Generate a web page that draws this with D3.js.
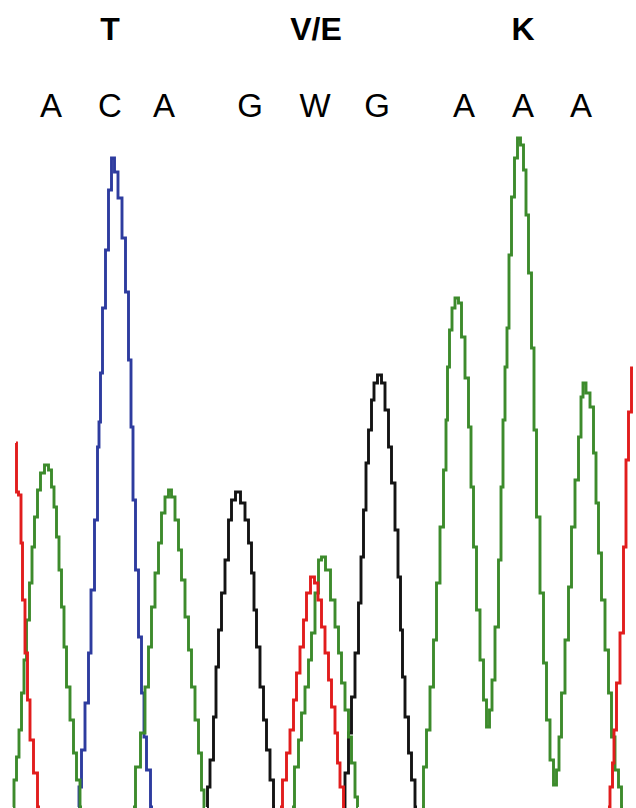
<!DOCTYPE html>
<meta charset="utf-8">
<style>
  body { margin: 0; background: #fff; }
  .trace { fill: none; stroke-width: 2.9; stroke-linejoin: miter; }
  .codon { font-family: "Liberation Sans", Arial, sans-serif; font-weight: bold; font-size: 32px; }
  .base { font-family: "Liberation Sans", Arial, sans-serif; font-size: 33px; }
</style>
<svg width="636" height="808"></svg>
<script src="https://cdnjs.cloudflare.com/ajax/libs/d3/7.8.5/d3.min.js"></script>
<script>

// amino acid labels and called bases, at their scan position
var codons = [["T", 110], ["V/E", 316], ["K", 523]];
var bases = [["A", 51], ["C", 110], ["A", 164], ["G", 250], ["W", 315], ["G", 377], ["A", 464], ["A", 523], ["A", 581]];

// traces: [scan, signal], null = gap between peaks
var traceA = [
  [13,0],[15,27],[18,50],[20,77],[23,114],[25,147],[28,187],[31,224],[33,260],[36,290],[39,317],[42,334],[47,342],
  [50,337],[53,320],[55,300],[58,270],[60,237],[63,200],[65,160],[68,120],[72,87],[75,54],[78,27],[82,0],
  null,
  [133,0],[138,40],[143,74],[147,120],[150,160],[153,200],[157,234],[160,264],[163,294],[167,310],[170,317],
  [173,310],[177,287],[180,257],[183,227],[187,190],[190,157],[193,120],[197,87],[200,54],[203,17],[205,0],
  null,
  [292,0],[297,40],[300,67],[303,94],[307,120],[310,147],[313,174],[317,214],[320,247],[323,250],
  [328,237],[333,207],[337,180],[340,154],[343,124],[347,97],[350,70],[353,44],[357,10],[358,0],
  null,
  [422,0],[425,40],[428,77],[432,120],[435,167],[438,224],[442,280],[445,337],[447,387],[448,440],[451,477],[453,499],[457,509],
  [460,504],[463,470],[467,429],[470,380],[472,320],[475,260],[478,197],[482,147],[485,107],[488,80],
  [491,97],[493,127],[497,180],[500,247],[502,320],[504,387],[506,440],[508,479],[510,552],[513,610],[516,649],[519,669],
  [522,662],[525,637],[527,592],[530,534],[533,459],[535,377],[538,290],[542,214],[545,144],[548,87],[552,47],[555,22],
  [558,37],[560,70],[563,114],[567,167],[570,220],[573,280],[577,327],[580,370],[582,410],[584,424],
  [588,414],[592,400],[595,354],[597,304],[600,254],[603,207],[607,157],[610,114],[613,70],[617,37],[620,20],[623,0]
];
var traceC = [
  [78,0],[80,20],[83,57],[87,104],[90,154],[92,217],[97,287],[98,360],[100,385],[101,434],[104,499],[107,557],[110,617],[113,649],
  [116,635],[120,609],[124,569],[127,515],[130,447],[132,380],[134,307],[137,237],[140,170],[143,114],[145,70],[148,37],[153,0]
];
var traceG = [
  [207,0],[208,20],[212,47],[215,90],[217,140],[220,177],[223,214],[227,247],[230,287],[233,307],[238,315],
  [243,304],[247,287],[250,264],[253,234],[255,197],[258,160],[262,120],[265,87],[268,57],[272,27],[275,0],
  null,
  [343,0],[347,34],[350,74],[353,110],[357,154],[360,204],[362,250],[365,297],[367,344],[370,377],[373,407],[375,424],[380,432],
  [383,424],[387,397],[390,360],[393,324],[397,277],[399,230],[402,177],[403,130],[407,90],[410,54],[413,27],[417,0]
];
var traceT = [
  [16,364],[17,315],[20,312],[22,264],[23,207],[27,154],[28,107],[32,67],[35,34],[40,0],
  null,
  [280,0],[285,27],[288,54],[292,77],[295,107],[298,134],[302,160],[305,187],[308,214],[313,230],
  [316,224],[320,207],[323,180],[327,154],[330,127],[333,100],[337,74],[338,44],[342,20],[345,0],
  null,
  [608,0],[612,20],[613,44],[615,77],[618,124],[622,174],[625,260],[627,347],[630,395],[633,439]
];

var traces = [
  { data: traceG, color: "#141414" },
  { data: traceC, color: "#2e3c9f" },
  { data: traceA, color: "#3d8b2c" },
  { data: traceT, color: "#e11d1d" }
];

var svg = d3.select("svg"),
    width = +svg.attr("width"),
    height = +svg.attr("height");

var x = d3.scaleLinear().domain([0, 636]).range([0, width]);
var y = d3.scaleLinear().domain([0, 700]).range([height - 1, height - 701]);

var line = d3.line()
    .defined(function(d) { return d; })
    .x(function(d) { return x(d[0]); })
    .y(function(d) { return y(d[1]); })
    .curve(d3.curveStep);

svg.append("clipPath").attr("id", "plot")
  .append("rect").attr("x", 0).attr("y", 0).attr("width", width).attr("height", height);

svg.append("g").attr("clip-path", "url(#plot)")
  .selectAll("path")
  .data(traces)
  .join("path")
    .attr("class", "trace")
    .attr("stroke", function(d) { return d.color; })
    .attr("d", function(d) { return line(d.data); });

svg.selectAll(".codon")
  .data(codons)
  .join("text")
    .attr("class", "codon")
    .attr("x", function(d) { return x(d[1]); })
    .attr("y", 40)
    .attr("text-anchor", "middle")
    .text(function(d) { return d[0]; });

svg.selectAll(".base")
  .data(bases)
  .join("text")
    .attr("class", "base")
    .attr("x", function(d) { return x(d[1]); })
    .attr("y", 117)
    .attr("text-anchor", "middle")
    .text(function(d) { return d[0]; });

</script>
